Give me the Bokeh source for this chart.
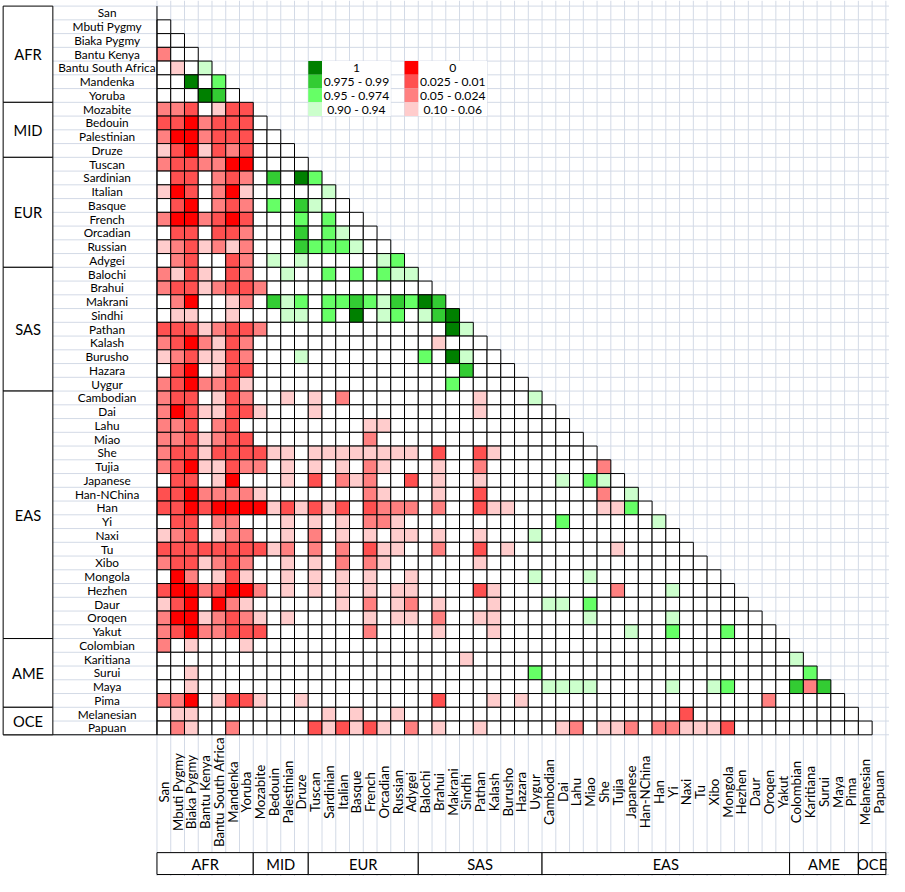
import math
from bokeh.plotting import figure
from bokeh.models import Range1d, ColumnDataSource
from bokeh.embed import file_html
from bokeh.resources import INLINE
from bokeh.core.properties import value

# ---------------- data ----------------
populations = [
    "San", "Mbuti Pygmy", "Biaka Pygmy", "Bantu Kenya", "Bantu South Africa", "Mandenka", "Yoruba",
    "Mozabite", "Bedouin", "Palestinian", "Druze",
    "Tuscan", "Sardinian", "Italian", "Basque", "French", "Orcadian", "Russian", "Adygei",
    "Balochi", "Brahui", "Makrani", "Sindhi", "Pathan", "Kalash", "Burusho", "Hazara", "Uygur",
    "Cambodian", "Dai", "Lahu", "Miao", "She", "Tujia", "Japanese", "Han-NChina", "Han", "Yi",
    "Naxi", "Tu", "Xibo", "Mongola", "Hezhen", "Daur", "Oroqen", "Yakut",
    "Colombian", "Karitiana", "Surui", "Maya", "Pima",
    "Melanesian", "Papuan",
]
regions = ["AFR", "MID", "EUR", "SAS", "EAS", "AME", "OCE"]
region_sizes = [7, 4, 8, 9, 18, 5, 2]

# one string per row (population i vs populations 0..i-1)
# '4'=1  '3'=0.975-0.99  '2'=0.95-0.974  '1'=0.90-0.94
# 'a'=0  'b'=0.025-0.01  'c'=0.05-0.024  'd'=0.10-0.06   '0'=none
cell_codes = [
    "",
    "0",
    "00",
    "c00",
    "0d01",
    "00402",
    "000430",
    "ccb0dbb",
    "bbacbbb0",
    "caacbbb00",
    "dbadbcb000",
    "cbbccaa0000",
    "0bb0cbc03042",
    "dab0cad000001",
    "0ba0cbc0203100",
    "caacbab00020200",
    "0bb0bbc000302100",
    "dcbdcdc0003222100",
    "0cb00bc01010000012",
    "cdbd0bc001002020211",
    "cbbdcbbc000000000000",
    "0ca00dc03120223213243",
    "0dd00d0001102040120134",
    "bbbdcbbc000000000000041",
    "cbacdbc0000000000000d000",
    "dcbddbc000100000000204100",
    "0ba0dbb0" "00000000000000" "3000",
    "cbaccbd0" "0000000000000" "2" "00000",
    "cbb0dbc00d0d0c000000000d0001",
    "cabddbbd000d" "00000000000" "d" "00000",
    "ccb0cb00" "0000000" "dd" "0000000000000",
    "ccbdcbb0" "0000000" "c" "000000000000000",
    "cbbdbbbbdd0dddddddd0b00bd0000000",
    "cbaddbcc0d0d0d0cd000d00c00000000c",
    "0bb0da000d0b0cdc00b0d00d0000010210",
    "bbaccccd0000000cd000d00b00000000c01",
    "bbabaaaadbdbdb0bccc0c00bdd000000dd20",
    "0bb0cc000d0d0d0ccd" "00000000000" "2" "000000" "1",
    "dcb0dcc00d0c0d0d0dd0d00d0001" "0000000000",
    "bbbbbbbbdc0c0c0bdd00c00b0d0000000d00000",
    "cbbdcbc00d0d0c0cd000000d" "0000000000000000",
    "0ac0dbd00d" "0d0d0d00d0" "0000000100" "0100000000" "0",
    "baacbaac0d" "0d0d0d0dd0" "000bd00000" "000c000100" "00",
    "dba0acd000" "000d0c0dc0" "d000d00011" "0200000000" "000",
    "caadcbcd0d" "00000d0dd0" "c00dd00000" "0100000100" "0000",
    "cbaccbbb00" "00000c0000" "d000d00000" "0000100200" "02000",
    "c0d000d" + "0" * 39,
    "0" * 22 + "d" + "0" * 23 + "1",
    "00d" + "0" * 24 + "2" + "0" * 19 + "2",
    "00d" + "0" * 25 + "1111" + "00000" + "1" + "00" + "12" + "0000" + "3c3",
    "cca0dbbd00" "d000000000" "b000d0d000" "0000000000" "0000c00000",
    "0dd000000000d0d00d" + "0" * 20 + "b" + "0" * 12,
    "0cd00c0000" "0bdbdbd0c0" "d00d00000d" "c0ddc0ccdd" "db00000000" "00",
]

green_codes = ["4", "3", "2", "1"]
green_labels = ["1", "0.975 - 0.99", "0.95 - 0.974", "0.90 - 0.94"]
red_codes = ["a", "b", "c", "d"]
red_labels = ["0", "0.025 - 0.01", "0.05 - 0.024", "0.10 - 0.06"]

# ---------------- styles ----------------
code_colors = {
    "4": "#008000", "3": "#33CC33", "2": "#66FF66", "1": "#CCFFCC",
    "a": "#FF0000", "b": "#FF5050", "c": "#FF8080", "d": "#FFCCCC",
    "0": "#FFFFFF",
}
GRID = "#D3DAE6"
FONT = "Lato"

REF_W, REF_H = 905, 892
CELL = 14.0
X0, Y0 = 159.3, 5.7
FIG_W, FIG_H = 889, 876
SCALE = FIG_W / REF_W


def ux(px):
    return (px - X0) / CELL


def uy(py):
    return (py - Y0) / CELL


def fs(px):
    return "%.1fpx" % (px * SCALE)


N = len(populations)
GROUP_L, GROUP_R = ux(2.7), ux(53.3)
LABEL_X = ux(108.5)
BOT_LAB_BOTTOM, BOT_GRP_BOTTOM = uy(867.7), uy(890.0)
BOT_LABEL_Y = uy(806.0)
X_END, Y_END = ux(REF_W), uy(REF_H)

p = figure(width=FIG_W, height=FIG_H,
           x_range=Range1d(ux(0), X_END), y_range=Range1d(Y_END, uy(0)),
           output_backend="svg", toolbar_location=None, min_border=0,
           outline_line_color=None, background_fill_color="white",
           border_fill_color="white")
p.axis.visible = False
p.grid.visible = False

# ---- spreadsheet gridlines ----
vx = list(range(0, N + 2))
p.segment(x0=vx, y0=[uy(0)] * len(vx), x1=vx, y1=[Y_END] * len(vx),
          line_color=GRID, line_width=1)
hy = list(range(0, N + 1))
p.segment(x0=[GROUP_R] * len(hy), y0=hy, x1=[X_END] * len(hy), y1=hy,
          line_color=GRID, line_width=1)
p.segment(x0=[0, 0], y0=[BOT_LAB_BOTTOM, BOT_GRP_BOTTOM], x1=[X_END, X_END],
          y1=[BOT_LAB_BOTTOM, BOT_GRP_BOTTOM], line_color=GRID, line_width=1)

# ---- legend (white merged areas + swatches) ----
p.quad(left=[12, 19], right=[17, 24], top=[4, 4], bottom=[8, 8],
       fill_color="white", line_color=None)
leg_rows = list(range(4, 8))
p.quad(left=[11] * 4, right=[12] * 4, top=leg_rows, bottom=[r + 1 for r in leg_rows],
       fill_color=[code_colors[c] for c in green_codes], line_color=None)
p.quad(left=[18] * 4, right=[19] * 4, top=leg_rows, bottom=[r + 1 for r in leg_rows],
       fill_color=[code_colors[c] for c in red_codes], line_color=None)
p.text(x=[14.5] * 4, y=[r + 0.5 for r in leg_rows], text=green_labels,
       text_align="center", text_baseline="middle", text_font=value(FONT),
       text_font_size=fs(12.3), text_color="black")
p.text(x=[21.5] * 4, y=[r + 0.5 for r in leg_rows], text=red_labels,
       text_align="center", text_baseline="middle", text_font=value(FONT),
       text_font_size=fs(12.3), text_color="black")

# ---- matrix cells ----
L, R, T, B, C = [], [], [], [], []
for i, row in enumerate(cell_codes):
    for j, code in enumerate(row):
        L.append(j); R.append(j + 1); T.append(i); B.append(i + 1)
        C.append(code_colors[code])
p.quad(source=ColumnDataSource(dict(left=L, right=R, top=T, bottom=B, color=C)),
       left="left", right="right", top="top", bottom="bottom",
       fill_color="color", line_color="black", line_width=1)

# label column borders
p.segment(x0=[0, GROUP_L], y0=[0, N], x1=[0, 0], y1=[N, N],
          line_color="black", line_width=1)

# ---- region boxes ----
starts = [sum(region_sizes[:k]) for k in range(len(regions))]
ends = [s + n for s, n in zip(starts, region_sizes)]
p.quad(left=[GROUP_L] * len(regions), right=[GROUP_R] * len(regions), top=starts, bottom=ends,
       fill_color="white", line_color="black", line_width=1)
p.text(x=[(GROUP_L + GROUP_R) / 2] * len(regions), y=[(s + e) / 2 for s, e in zip(starts, ends)],
       text=regions, text_align="center", text_baseline="middle", text_font=value(FONT),
       text_font_size=fs(15), text_color="black")
p.quad(left=starts, right=ends, top=[BOT_LAB_BOTTOM] * len(regions),
       bottom=[BOT_GRP_BOTTOM] * len(regions),
       fill_color="white", line_color="black", line_width=1)
p.text(x=[(s + e) / 2 for s, e in zip(starts, ends)],
       y=[(BOT_LAB_BOTTOM + BOT_GRP_BOTTOM) / 2] * len(regions),
       text=regions, text_align="center", text_baseline="middle", text_font=value(FONT),
       text_font_size=fs(15), text_color="black")

# ---- population labels ----
p.text(x=[LABEL_X] * N, y=[i + 0.5 for i in range(N)], text=populations,
       text_align="center", text_baseline="middle", text_font=value(FONT),
       text_font_size=fs(12), text_color="black")
p.text(x=[j + 0.5 for j in range(N)], y=[BOT_LABEL_Y] * N, text=populations,
       angle=math.pi / 2, text_align="center", text_baseline="middle",
       text_font=value(FONT), text_font_size=fs(13.5), text_color="black")

open("out.html", "w").write(file_html(p, INLINE))
